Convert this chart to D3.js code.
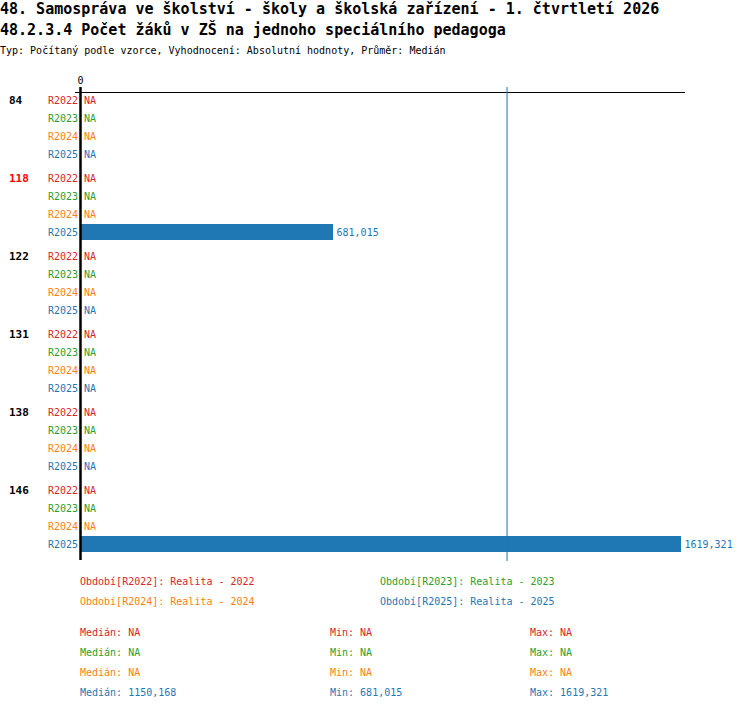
<!DOCTYPE html>
<html>
<head>
<meta charset="utf-8" />
<script src="https://cdn.jsdelivr.net/npm/d3@7"></script>
<style>
    body { margin: 0; background: #fff; }
    text { font-family: "DejaVu Sans Mono", "Liberation Mono", monospace; }
</style>
</head>
<body>
<script>
    // data
    var groups = ["84", "118", "122", "131", "138", "146"];
    var highlight = "118";
    var series = ["R2022", "R2023", "R2024", "R2025"];
    var seriesNames = ["Realita - 2022", "Realita - 2023", "Realita - 2024", "Realita - 2025"];
    var colors = ["#d62728", "#2ca02c", "#ff7f0e", "#1f77b4"];
    var values = {
        R2022: [null, null, null, null, null, null],
        R2023: [null, null, null, null, null, null],
        R2024: [null, null, null, null, null, null],
        R2025: [null, 681.015, null, null, null, 1619.321]
    };
    var xTicks = [0];

    var title1 = "48. Samospráva ve školství - školy a školská zařízení - 1. čtvrtletí 2026";
    var title2 = "48.2.3.4 Počet žáků v ZŠ na jednoho speciálního pedagoga";
    var subtitle = "Typ: Počítaný podle vzorce, Vyhodnocení: Absolutní hodnoty, Průměr: Medián";

    var cz = d3.formatLocale({decimal: ",", thousands: "", grouping: [3], currency: ["", ""]});
    var fmt = function(v) { return v == null ? "NA" : cz.format(".3f")(v); };

    var svg = d3.select("body").append("svg")
        .attr("width", 750).attr("height", 710);

    svg.append("text").attr("x", 0).attr("y", 14).attr("font-size", 15).attr("font-weight", "bold").text(title1);
    svg.append("text").attr("x", 0).attr("y", 35).attr("font-size", 15).attr("font-weight", "bold").text(title2);
    svg.append("text").attr("x", 0).attr("y", 54).attr("font-size", 10).text(subtitle);

    var allVals = [];
    series.forEach(function(s) { values[s].forEach(function(v) { if (v != null) allVals.push(v); }); });

    var x = d3.scaleLinear().domain([0, d3.max(allVals)]).range([80.5, 681]);
    var yGroup = d3.scaleBand().domain(groups).range([91, 91 + groups.length * 78]);
    var yRow = d3.scaleBand().domain(series).range([0, 72]);

    // top axis
    svg.append("line").attr("x1", 75).attr("x2", 685).attr("y1", 92.5).attr("y2", 92.5)
        .attr("stroke", "#000").attr("stroke-width", 1);
    svg.selectAll(".tick").data(xTicks).enter().append("text")
        .attr("x", function(d) { return x(d); }).attr("y", 84)
        .attr("text-anchor", "middle").attr("font-size", 10).text(function(d) { return d; });

    // median line
    var medAll = d3.median(values.R2025.filter(function(v) { return v != null; }));

    groups.forEach(function(g, gi) {
        var g0 = yGroup(g);
        svg.append("text").attr("x", 9).attr("y", g0 + yRow.bandwidth() / 2 + 4)
            .attr("font-size", 11).attr("font-weight", "bold")
            .attr("fill", g === highlight ? "#ff0000" : "#000").text(g);

        series.forEach(function(s, si) {
            var cy = g0 + yRow(s) + yRow.bandwidth() / 2;
            var v = values[s][gi];
            svg.append("text").attr("x", 78).attr("y", cy + 4).attr("text-anchor", "end")
                .attr("font-size", 10).attr("fill", colors[si]).text(s);
            if (v != null) {
                svg.append("rect").attr("x", x(0)).attr("y", cy - 8)
                    .attr("width", x(v) - x(0)).attr("height", 16).attr("fill", colors[si]);
            }
            svg.append("text").attr("x", (v != null ? x(v) : x(0)) + 3.5).attr("y", cy + 4)
                .attr("font-size", 10).attr("fill", colors[si]).text(fmt(v));
        });
    });

    svg.append("line").attr("x1", x(medAll)).attr("x2", x(medAll)).attr("y1", 87).attr("y2", 561)
        .attr("stroke", colors[3]).attr("stroke-width", 1);

    // zero axis
    svg.append("line").attr("x1", 80.5).attr("x2", 80.5).attr("y1", 87).attr("y2", 560)
        .attr("stroke", "#000").attr("stroke-width", 2.5);

    // legend
    series.forEach(function(s, i) {
        svg.append("text").attr("x", i % 2 === 0 ? 80 : 380).attr("y", 585 + Math.floor(i / 2) * 20)
            .attr("font-size", 10).attr("fill", colors[i])
            .text("Období[" + s + "]: " + seriesNames[i]);
    });

    // stats
    series.forEach(function(s, i) {
        var vals = values[s].filter(function(v) { return v != null; });
        var med = vals.length ? d3.median(vals) : null,
            mn = vals.length ? d3.min(vals) : null,
            mx = vals.length ? d3.max(vals) : null;
        var yy = 636 + i * 20;
        [["Medián: ", med, 80], ["Min: ", mn, 330], ["Max: ", mx, 530]].forEach(function(c) {
            svg.append("text").attr("x", c[2]).attr("y", yy).attr("font-size", 10)
                .attr("fill", colors[i]).text(c[0] + fmt(c[1]));
        });
    });
</script>
</body>
</html>
